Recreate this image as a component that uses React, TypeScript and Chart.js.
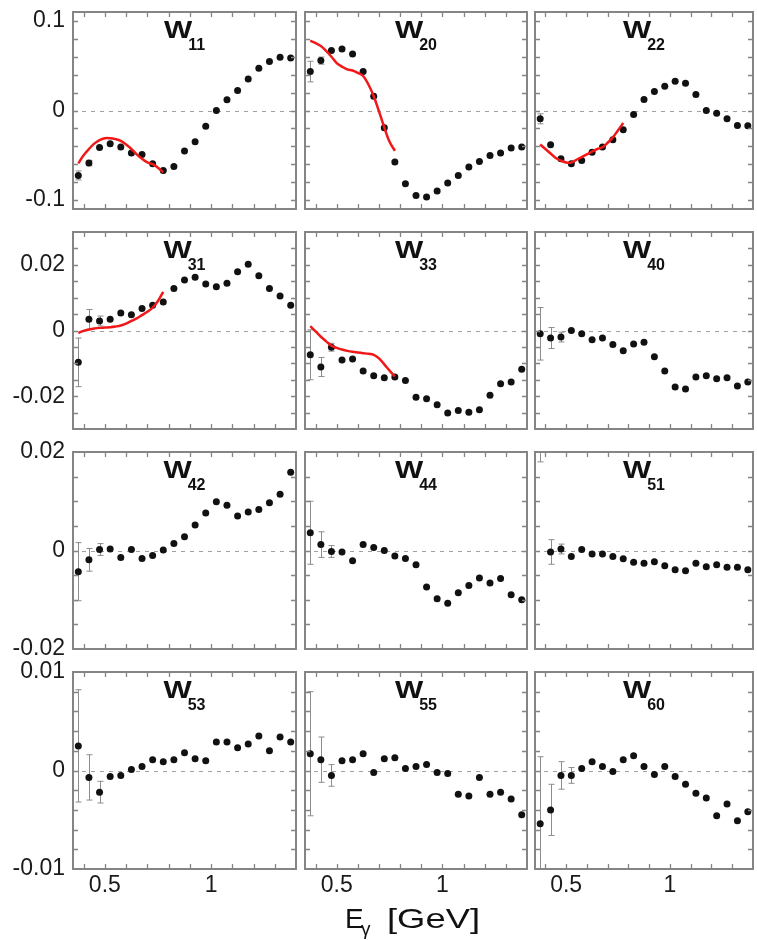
import React, { useEffect, useRef } from "react";
import { Chart, registerables } from "chart.js";

Chart.register(...registerables);

// ---------- data ----------
const energies = [
  0.375, 0.425, 0.475, 0.525, 0.575, 0.625, 0.675, 0.725, 0.775, 0.825, 0.875,
  0.925, 0.975, 1.025, 1.075, 1.125, 1.175, 1.225, 1.275, 1.325, 1.375,
];
const curveEnergies = [
  0.375, 0.4, 0.425, 0.45, 0.475, 0.5, 0.525, 0.55, 0.575, 0.6, 0.625, 0.65,
  0.675, 0.7, 0.725, 0.75, 0.775,
];

const w11 = [-0.0725, -0.0587, -0.0412, -0.0372, -0.0409, -0.0476, -0.049, -0.0595, -0.067, -0.0624, -0.0453, -0.035, -0.0175, 0, 0.0119, 0.0223, 0.0353, 0.0472, 0.0546, 0.0595, 0.0587];
const w11Err = [0.005, 0.003];
const w11Curve = [-0.059, -0.05, -0.043, -0.037, -0.033, -0.031, -0.031, -0.032, -0.034, -0.038, -0.043, -0.049, -0.054, -0.058, -0.06, -0.064, -0.069];

const w20 = [0.0435, 0.0557, 0.0669, 0.0687, 0.0632, 0.0435, 0.016, -0.0193, -0.0576, -0.0818, -0.0948, -0.0966, -0.0899, -0.081, -0.0725, -0.0632, -0.0569, -0.0502, -0.0476, -0.042, -0.0409];
const w20Err = [0.0115, 0.004];
const w20Curve = [0.078, 0.0753, 0.072, 0.0665, 0.06, 0.053, 0.049, 0.046, 0.0447, 0.042, 0.0385, 0.029, 0.016, -0.001, -0.019, -0.035, -0.045];

const w22 = [-0.0093, -0.0383, -0.0539, -0.0595, -0.0557, -0.0465, -0.0409, -0.0327, -0.0216, -0.0045, 0.0123, 0.0212, 0.0271, 0.0327, 0.0305, 0.0178, 0, -0.003, -0.0093, -0.0167, -0.0171];
const w22Err = [0.0056];
const w22Curve = [-0.038, -0.043, -0.048, -0.053, -0.056, -0.058, -0.058, -0.055, -0.052, -0.049, -0.046, -0.043, -0.041, -0.036, -0.03, -0.022, -0.014];

const w31 = [-0.0097, 0.0034, 0.0029, 0.0034, 0.0053, 0.0048, 0.0067, 0.0077, 0.0087, 0.0128, 0.0154, 0.0162, 0.0142, 0.0133, 0.0144, 0.0179, 0.0202, 0.0167, 0.0128, 0.0105, 0.0077];
const w31Err = [0.0074, 0.003, 0.0015];
const w31Curve = [-0.0007, -0.0001, 0.0003, 0.0006, 0.0008, 0.0009, 0.001, 0.0012, 0.0015, 0.0021, 0.0029, 0.0037, 0.0047, 0.0057, 0.007, 0.009, 0.0118];

const w33 = [-0.0074, -0.0111, -0.0051, -0.009, -0.0087, -0.0123, -0.0138, -0.0144, -0.0142, -0.0152, -0.0203, -0.0208, -0.0226, -0.0251, -0.0244, -0.0249, -0.0241, -0.0197, -0.0162, -0.0157, -0.0118];
const w33Err = [0.0076, 0.0029, 0.0012];
const w33Curve = [0.0013, -0.0003, -0.0019, -0.0033, -0.0046, -0.0053, -0.0058, -0.0062, -0.0065, -0.0067, -0.0069, -0.0071, -0.0074, -0.0085, -0.0103, -0.0122, -0.014];

const w40 = [-0.001, -0.0023, -0.002, 0, -0.001, -0.0028, -0.0023, -0.0043, -0.0062, -0.0041, -0.0036, -0.008, -0.0123, -0.0172, -0.0178, -0.0142, -0.0138, -0.0147, -0.0144, -0.0169, -0.0157];
const w40Err = [0.008, 0.0032, 0.0015];

const w42 = [-0.0043, -0.0019, 0.0002, 0.0003, -0.0014, 0.0002, -0.0016, -0.001, 0.0001, 0.0014, 0.0028, 0.0052, 0.0076, 0.0099, 0.0092, 0.007, 0.0078, 0.0083, 0.0097, 0.0114, 0.0159];
const w42Err = [0.0059, 0.0023, 0.0012];

const w44 = [0.0036, 0.0012, -0.0002, -0.0003, -0.0021, 0.0012, 0.0006, 0, -0.0011, -0.0016, -0.0029, -0.0074, -0.0098, -0.0107, -0.0086, -0.0071, -0.0056, -0.0066, -0.0057, -0.009, -0.01];
const w44Err = [0.0064, 0.0026, 0.0012];

const w51 = [0.03, -0.0003, 0.0003, -0.0012, 0.0002, -0.0007, -0.0007, -0.0012, -0.0017, -0.0024, -0.0026, -0.0023, -0.0031, -0.0039, -0.0041, -0.0026, -0.0033, -0.0029, -0.0034, -0.0034, -0.0039];
const w51Err = [0.012, 0.0025, 0.001];

const w53 = [0.0025, -0.0007, -0.0022, -0.0006, -0.0005, 0.0001, 0.0004, 0.0011, 0.0009, 0.0011, 0.0018, 0.0012, 0.001, 0.0029, 0.0029, 0.0023, 0.0027, 0.0035, 0.002, 0.0034, 0.0029];
const w53Err = [0.0057, 0.0023, 0.0011];

const w55 = [0.0017, 0.0011, -0.0005, 0.001, 0.0011, 0.0017, -0.0002, 0.0012, 0.0013, 0.0002, 0.0004, 0.0006, -0.0002, -0.0003, -0.0024, -0.0026, -0.0007, -0.0024, -0.0022, -0.0029, -0.0045];
const w55Err = [0.0063, 0.0023, 0.0011];

const w60 = [-0.0054, -0.004, -0.0005, -0.0005, 0.0002, 0.0009, 0.0004, -0.0001, 0.0011, 0.0015, 0.0004, -0.0004, 0.0004, -0.0006, -0.0014, -0.0023, -0.0028, -0.0046, -0.0034, -0.0051, -0.0042];
const w60Err = [0.0068, 0.0026, 0.0014, 0.0008];

// ---------- axes ----------
const xRange = [0.35, 1.4];
const xLabelTicks = [0.5, 1];
const xMinorTicks = [0.4, 0.5, 0.6, 0.7, 0.8, 0.9, 1.0, 1.1, 1.2, 1.3];

const rowRanges = [
  [-0.11, 0.11],
  [-0.03, 0.03],
  [-0.02, 0.02],
  [-0.01, 0.01],
];
const rowLabelTicks = [
  [-0.1, 0, 0.1],
  [-0.02, 0, 0.02],
  [-0.02, 0, 0.02],
  [-0.01, 0, 0.01],
];
const rowMinorTicks = [
  [-0.1, -0.08, -0.06, -0.04, -0.02, 0, 0.02, 0.04, 0.06, 0.08, 0.1],
  [-0.025, -0.02, -0.015, -0.01, -0.005, 0, 0.005, 0.01, 0.015, 0.02, 0.025],
  [-0.015, -0.01, -0.005, 0, 0.005, 0.01, 0.015],
  [-0.008, -0.006, -0.004, -0.002, 0, 0.002, 0.004, 0.006, 0.008],
];

type PanelDef = { sub: string; values: number[]; errors: number[]; curve?: number[] };

const panels: PanelDef[][] = [
  [
    { sub: "11", values: w11, errors: w11Err, curve: w11Curve },
    { sub: "20", values: w20, errors: w20Err, curve: w20Curve },
    { sub: "22", values: w22, errors: w22Err, curve: w22Curve },
  ],
  [
    { sub: "31", values: w31, errors: w31Err, curve: w31Curve },
    { sub: "33", values: w33, errors: w33Err, curve: w33Curve },
    { sub: "40", values: w40, errors: w40Err },
  ],
  [
    { sub: "42", values: w42, errors: w42Err },
    { sub: "44", values: w44, errors: w44Err },
    { sub: "51", values: w51, errors: w51Err },
  ],
  [
    { sub: "53", values: w53, errors: w53Err },
    { sub: "55", values: w55, errors: w55Err },
    { sub: "60", values: w60, errors: w60Err },
  ],
];

// ---------- layout / style ----------
const PAGE_W = 757;
const PAGE_H = 940;
const colLefts = [73, 305, 535];
const colWidths = [223, 222, 221];
const rowTops = [12, 232, 452, 672];
const ROW_H = 197;
const Y_AXIS_W = 60;
const X_AXIS_H = 40;
const FONT = '"Liberation Sans", Arial, Helvetica, sans-serif';
const FRAME = "#858585";
const RED = "#f01818";

function panelPlugin(p: PanelDef, r: number, c: number) {
  return {
    id: "panelDecor",
    beforeDatasetsDraw(chart: any) {
      const { ctx, chartArea: a, scales } = chart;
      const x = scales.x;
      const y = scales.y;
      ctx.save();
      // zero line
      const y0 = Math.round(y.getPixelForValue(0)) + 0.5;
      ctx.strokeStyle = "#a0a0a0";
      ctx.lineWidth = 1;
      ctx.setLineDash([4, 5]);
      ctx.beginPath();
      ctx.moveTo(a.left, y0);
      ctx.lineTo(a.right, y0);
      ctx.stroke();
      ctx.setLineDash([]);
      // error bars
      ctx.beginPath();
      ctx.rect(a.left, a.top, a.right - a.left, a.bottom - a.top);
      ctx.clip();
      ctx.strokeStyle = "#8c8c8c";
      ctx.lineWidth = 1;
      p.errors.forEach((e, i) => {
        const px = Math.round(x.getPixelForValue(energies[i])) + 0.5;
        const t = y.getPixelForValue(p.values[i] + e);
        const b = y.getPixelForValue(p.values[i] - e);
        ctx.beginPath();
        ctx.moveTo(px, t);
        ctx.lineTo(px, b);
        ctx.moveTo(px - 3, t);
        ctx.lineTo(px + 3, t);
        ctx.moveTo(px - 3, b);
        ctx.lineTo(px + 3, b);
        ctx.stroke();
      });
      ctx.restore();
    },
    afterDatasetsDraw(chart: any) {
      const { ctx, chartArea: a, scales } = chart;
      const x = scales.x;
      const y = scales.y;
      ctx.save();
      // inward ticks
      ctx.strokeStyle = FRAME;
      ctx.lineWidth = 1.3;
      ctx.beginPath();
      xMinorTicks.forEach((v) => {
        const px = Math.round(x.getPixelForValue(v)) + 0.5;
        ctx.moveTo(px, a.bottom);
        ctx.lineTo(px, a.bottom - 5);
        ctx.moveTo(px, a.top);
        ctx.lineTo(px, a.top + 5);
      });
      rowMinorTicks[r].forEach((v) => {
        const py = Math.round(y.getPixelForValue(v)) + 0.5;
        ctx.moveTo(a.left, py);
        ctx.lineTo(a.left + 5, py);
        ctx.moveTo(a.right, py);
        ctx.lineTo(a.right - 5, py);
      });
      ctx.stroke();
      // frame
      ctx.lineWidth = 2;
      ctx.strokeRect(a.left, a.top, a.right - a.left, a.bottom - a.top);
      // title
      const cx = (a.left + a.right) / 2;
      const sx = 1.3;
      ctx.fillStyle = "#111";
      ctx.font = `bold 23px ${FONT}`;
      const wW = ctx.measureText("W").width * sx;
      ctx.font = `bold 16px ${FONT}`;
      const sW = ctx.measureText(p.sub).width;
      const total = wW + sW - 4;
      const start = cx - total / 2;
      ctx.save();
      ctx.translate(start, a.top + 26);
      ctx.scale(sx, 1);
      ctx.font = `bold 23px ${FONT}`;
      ctx.textBaseline = "alphabetic";
      ctx.fillText("W", 0, 0);
      ctx.restore();
      ctx.font = `bold 16px ${FONT}`;
      ctx.textBaseline = "alphabetic";
      ctx.fillText(p.sub, start + wW - 4, a.top + 38);
      ctx.restore();
    },
    afterDraw(chart: any) {
      if (!(r === 3 && c === 1)) return;
      const { ctx } = chart;
      ctx.save();
      ctx.fillStyle = "#111";
      ctx.textBaseline = "alphabetic";
      ctx.font = `28px ${FONT}`;
      ctx.fillText("E", 345, 928);
      ctx.font = `19px ${FONT}`;
      ctx.fillText("γ", 361, 935);
      ctx.font = `28px ${FONT}`;
      const txt = "[GeV]";
      const wTxt = ctx.measureText(txt).width;
      ctx.translate(387, 928);
      ctx.scale(93 / wTxt, 1);
      ctx.fillText(txt, 0, 0);
      ctx.restore();
    },
  };
}

function buildConfig(p: PanelDef, r: number, c: number): any {
  const isLeft = c === 0;
  const isBottom = r === 3;
  const left = colLefts[c];
  const width = colWidths[c];
  const top = rowTops[r];
  const [yMin, yMax] = rowRanges[r];
  const datasets: any[] = [];
  if (p.curve) {
    const curve = p.curve;
    datasets.push({
      data: curveEnergies.map((e, i) => ({ x: e, y: curve[i] })),
      showLine: true,
      borderColor: RED,
      borderWidth: 2.5,
      pointRadius: 0,
      tension: 0.4,
      fill: false,
      clip: 2,
    });
  }
  datasets.push({
    data: energies.map((e, i) => ({ x: e, y: p.values[i] })),
    showLine: false,
    pointRadius: 3.5,
    pointBackgroundColor: "#111",
    pointBorderColor: "#111",
    pointBorderWidth: 0,
    borderWidth: 0,
    clip: 6,
  });
  const tickFont = { family: FONT, size: 23 };
  return {
    type: "scatter",
    data: { datasets },
    options: {
      animation: false,
      responsive: false,
      devicePixelRatio: 1,
      events: [],
      layout: {
        padding: {
          left: left - (isLeft ? Y_AXIS_W : 0),
          top,
          right: PAGE_W - left - width,
          bottom: PAGE_H - top - ROW_H - (isBottom ? X_AXIS_H : 0),
        },
      },
      plugins: {
        legend: { display: false },
        tooltip: { enabled: false },
        title: { display: false },
      },
      scales: {
        x: {
          type: "linear",
          min: xRange[0],
          max: xRange[1],
          display: isBottom,
          grid: { display: false, drawTicks: false },
          border: { display: false },
          ticks: {
            font: tickFont,
            color: "#1a1a1a",
            padding: 3,
            autoSkip: false,
            maxRotation: 0,
            callback: (v: any) => String(v),
          },
          afterBuildTicks: (s: any) => {
            s.ticks = xLabelTicks.map((v) => ({ value: v }));
          },
          afterFit: (s: any) => {
            s.height = isBottom ? X_AXIS_H : 0;
            s.paddingLeft = 0;
            s.paddingRight = 0;
            s.paddingTop = 0;
            s.paddingBottom = 0;
          },
        },
        y: {
          type: "linear",
          min: yMin,
          max: yMax,
          display: isLeft,
          grid: { display: false, drawTicks: false },
          border: { display: false },
          ticks: {
            font: tickFont,
            color: "#1a1a1a",
            padding: 8,
            autoSkip: false,
            callback: (v: any) => String(v),
          },
          afterBuildTicks: (s: any) => {
            s.ticks = rowLabelTicks[r].map((v) => ({ value: v }));
          },
          afterFit: (s: any) => {
            s.width = isLeft ? Y_AXIS_W : 0;
            s.paddingLeft = 0;
            s.paddingRight = 0;
            s.paddingTop = 0;
            s.paddingBottom = 0;
          },
        },
      },
    },
    plugins: [panelPlugin(p, r, c)],
  };
}

export default function App() {
  const refs = useRef<(HTMLCanvasElement | null)[]>([]);
  useEffect(() => {
    const charts: Chart[] = [];
    panels.forEach((rowPanels, r) =>
      rowPanels.forEach((p, c) => {
        const canvas = refs.current[r * 3 + c];
        if (!canvas) return;
        charts.push(new Chart(canvas, buildConfig(p, r, c)));
      })
    );
    return () => charts.forEach((ch) => ch.destroy());
  }, []);
  return (
    <div
      style={{
        position: "absolute",
        left: 0,
        top: 0,
        width: PAGE_W,
        height: PAGE_H,
        background: "#fff",
        overflow: "hidden",
      }}
    >
      {Array.from({ length: 12 }).map((_, i) => (
        <canvas
          key={i}
          ref={(el) => {
            refs.current[i] = el;
          }}
          width={PAGE_W}
          height={PAGE_H}
          style={{ position: "absolute", left: 0, top: 0, width: PAGE_W, height: PAGE_H }}
        />
      ))}
    </div>
  );
}
